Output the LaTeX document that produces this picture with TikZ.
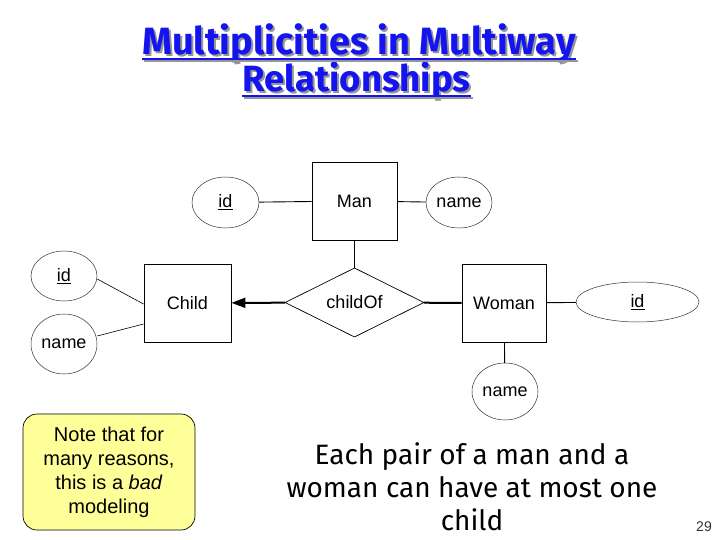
\documentclass[tikz,border=0pt]{standalone}
\usepackage{fontspec}
\setmainfont{Liberation Sans}
\newfontfamily\comic{Fira Sans}
\usetikzlibrary{shapes.geometric,arrows.meta}
\definecolor{titleblue}{RGB}{20,20,240}
\definecolor{shadowgray}{RGB}{150,150,150}
\definecolor{noteyellow}{RGB}{255,255,153}
\newcommand{\shadowed}[1]{\rlap{\hspace{2pt}\raisebox{-2pt}{\textcolor{shadowgray}{#1}}}\textcolor{titleblue}{#1}}
\begin{document}
\begin{tikzpicture}[x=1pt,y=-1pt,
  entity/.style={draw, line width=0.9pt, inner sep=0, font=\fontsize{18}{22}\selectfont},
  attr/.style={draw, ellipse, line width=0.5pt, draw=black!80, inner sep=0, font=\fontsize{18}{22}\selectfont},
  rel/.style={draw, diamond, line width=0.7pt, inner sep=0, minimum width=139pt, minimum height=57pt, font=\fontsize{18}{22}\selectfont},
  conn/.style={line width=0.9pt},
  thick conn/.style={line width=2pt},
  titletext/.style={anchor=base, inner sep=0, font=\comic\bfseries\fontsize{38}{44}\selectfont},
  titletwo/.style={anchor=base, inner sep=0, font=\comic\bfseries\fontsize{36.5}{44}\selectfont},
]
\useasboundingbox (0,0) rectangle (720,540);
\fill[white] (0,0) rectangle (720,540);

% title
\node[titletext] (t1) at (359,55) {\shadowed{Multiplicities in Multiway}};
\node[titletwo] (t2) at (356.5,92) {\shadowed{Relationships}};
\draw[shadowgray, line width=2.2pt] ([xshift=2pt,yshift=-6pt]t1.base west) -- ([xshift=2pt,yshift=-6pt]t1.base east);
\draw[shadowgray, line width=2.2pt] ([xshift=2pt,yshift=-6pt]t2.base west) -- ([xshift=2pt,yshift=-6pt]t2.base east);
\draw[titleblue, line width=2.2pt] ([yshift=-4pt]t1.base west) -- ([yshift=-4pt]t1.base east);
\draw[titleblue, line width=2.2pt] ([yshift=-4pt]t2.base west) -- ([yshift=-4pt]t2.base east);

% entities
\node[entity, minimum width=85pt, minimum height=78pt] (man) at (354.5,201) {Man};
\node[entity, minimum width=84pt, minimum height=78pt] (woman) at (504,303) {Woman};
\node[entity, minimum width=87pt, minimum height=78pt] (child) at (187.5,303) {Child};
\node[rel] (childof) at (354.5,302.5) {childOf};

% attributes
\node[attr, minimum width=67pt, minimum height=51pt] (manid) at (225.5,202.5) {\underline{id}};
\node[attr, minimum width=66pt, minimum height=51pt] (manname) at (459,202.5) {name};
\node[attr, minimum width=123pt, minimum height=40pt] (womanid) at (637.5,302) {\underline{id}};
\node[attr, minimum width=66pt, minimum height=57pt] (womanname) at (505,391.5) {name};
\node[attr, minimum width=66pt, minimum height=50pt] (childid) at (64,276) {\underline{id}};
\node[attr, minimum width=66pt, minimum height=60pt] (childname) at (64,344) {name};

% connectors
\draw[conn] (manid) -- (man);
\draw[conn] (man) -- (manname);
\draw[conn] (man) -- (childof);
\draw[thick conn] (childof) -- (woman);
\draw[conn] (woman) -- (womanid);
\draw[conn] (woman) -- (womanname);
\draw[thick conn, -{Triangle[length=14pt,width=10pt]}] (childof) -- (child);
\draw[conn, line width=0.6pt] ([yshift=-3pt]childid.east) -- ([yshift=-1pt]child.west);
\draw[conn, line width=0.6pt] ([yshift=8pt]childname.east) -- ([yshift=-21pt]child.west);

% note
\node[draw, line width=0.7pt, fill=noteyellow, rounded corners=14pt, minimum width=172pt, minimum height=116pt, inner sep=0, align=center, font=\fontsize{20}{24}\selectfont] (note) at (109,472) {Note that for\\many reasons,\\this is a \textit{bad}\\modeling};

% bottom text
\node[align=center, inner sep=0, font=\comic\fontsize{28}{33}\selectfont] (claim) at (472,487) {Each pair of a man and a\\woman can have at most one\\child};
\node[inner sep=0, font=\fontsize{14}{16}\selectfont, text=black!80] (pg) at (704,527) {29};
\end{tikzpicture}
\end{document}
